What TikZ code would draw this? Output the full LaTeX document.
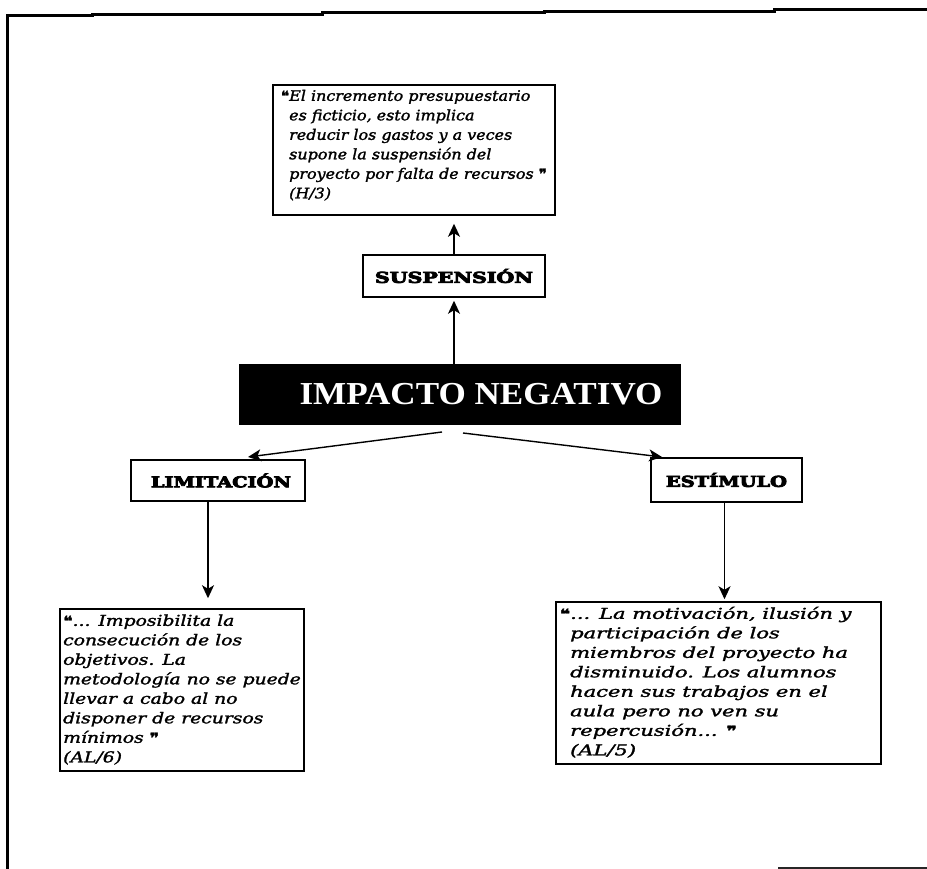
\documentclass[tikz,border=0pt]{standalone}
\usepackage{fontspec}
\usepackage{graphicx}
\usetikzlibrary{arrows.meta,calc}
\setmainfont{DejaVu Serif}
\newfontfamily\qfont{DejaVu Serif}[ItalicFeatures={FakeBold=1.5}]
\newfontfamily\lblfont{DejaVu Serif}[BoldFeatures={FakeBold=5}]
\newfontfamily\impfont{Liberation Serif}
\newfontfamily\symfont{DejaVu Sans}[FakeBold=2]
% heavy quotation marks used in the citations
\newcommand\oq{{\symfont\fontsize{14}{14}\selectfont ❝}}
\newcommand\cq{{\symfont\fontsize{14}{14}\selectfont ❞}}

\begin{document}
\begin{tikzpicture}[x=1pt,y=-1pt,
  box/.style={draw=black,line width=1.5pt,rectangle,inner sep=0pt},
  quotetext/.style={anchor=north west,inner sep=0pt,align=left},
  lbl/.style={font=\lblfont\bfseries\fontsize{15}{15}\selectfont},
  arr/.style={-{Stealth[length=13pt,width=12pt,inset=3.5pt]},line width=1.4pt},
  frameline/.style={line width=3pt,line join=miter}]
\useasboundingbox (0,0) rectangle (927,869);

% outer frame (top and left edges)
\draw[frameline] (7,869) -- (7,16) -- (92,16) -- (92,15) -- (322,15) -- (322,13)
  -- (544,13) -- (544,12) -- (774,12) -- (774,10) -- (927,10);
\draw[line width=1.5pt,black!85] (778,868) -- (927,868);

% central node
\node[fill=black,inner sep=0pt,minimum width=442pt,minimum height=61pt] (imp) at (460,394.5) {};
\node[text=white,inner sep=0pt,font=\impfont\bfseries\fontsize{32}{32}\selectfont] (impt) at (481,394)
  {\resizebox{363pt}{\height}{IMPACTO NEGATIVO}};

% category boxes
\node[box,lbl,minimum width=182pt,minimum height=42pt] (susp) at (454,276)
  {\resizebox{158pt}{\height}{SUSPENSIÓN}};
\node[box,lbl,minimum width=174pt,minimum height=41pt] (lim) at (218,480.5)
  {\hspace{6pt}\resizebox{140pt}{\height}{LIMITACIÓN}};
\node[box,lbl,minimum width=151pt,minimum height=44pt] (est) at (726.5,480)
  {\resizebox{121pt}{\height}{ESTÍMULO}};

% quotation boxes
\node[box,minimum width=282pt,minimum height=130pt] (qtop) at (414,150) {};
\node[quotetext,font=\qfont\itshape\fontsize{14.5}{19.5}\selectfont] (qtopt) at (289,87)
  {\scalebox{1.1}[1]{\begin{tabular}{@{}l@{}}
   \llap{\oq}El incremento presupuestario\\
   es ficticio, esto implica\\
   reducir los gastos y a veces\\
   supone la suspensión del\\
   proyecto por falta de recursos \cq\\
   (H/3)\end{tabular}}};

\node[box,minimum width=244pt,minimum height=162pt] (qlim) at (182,690) {};
\node[quotetext,font=\qfont\itshape\fontsize{15}{19.5}\selectfont] (qlimt) at (63,612)
  {\scalebox{1.25}[1]{\begin{tabular}{@{}l@{}}
   \oq... Imposibilita la\\
   consecución de los\\
   objetivos. La\\
   metodología no se puede\\
   llevar a cabo al no\\
   disponer de recursos\\
   mínimos \cq\\
   (AL/6)\end{tabular}}};

\node[box,minimum width=325pt,minimum height=162pt] (qest) at (718.5,683) {};
\node[quotetext,font=\qfont\itshape\fontsize{15}{19.5}\selectfont] (qestt) at (570,605)
  {\scalebox{1.4}[1]{\begin{tabular}{@{}l@{}}
   \llap{\oq}... La motivación, ilusión y\\
   participación de los\\
   miembros del proyecto ha\\
   disminuido. Los alumnos\\
   hacen sus trabajos en el\\
   aula pero no ven su\\
   repercusión... \cq\\
   (AL/5)\end{tabular}}};

% connectors
\coordinate (impL) at (442,432);
\coordinate (impR) at (463,433);
\coordinate (limTip) at (248,457);
\coordinate (estTip) at (662,457);
\coordinate (limOut) at ([xshift=-10pt]lim.south);
\coordinate (estOut) at ([xshift=-2pt]est.south);
\draw[arr,shorten >=3pt] (imp.north -| susp.south) -- (susp.south);
\draw[arr,shorten >=8pt] (susp.north) -- (susp.north |- qtop.south);
\draw[arr] (impL) -- (limTip);
\draw[arr] (impR) -- (estTip);
\draw[arr,shorten >=10pt] (limOut) -- (limOut |- qlim.north);
\draw[arr,shorten >=2pt] (estOut) -- (estOut |- qest.north);
\end{tikzpicture}
\end{document}
